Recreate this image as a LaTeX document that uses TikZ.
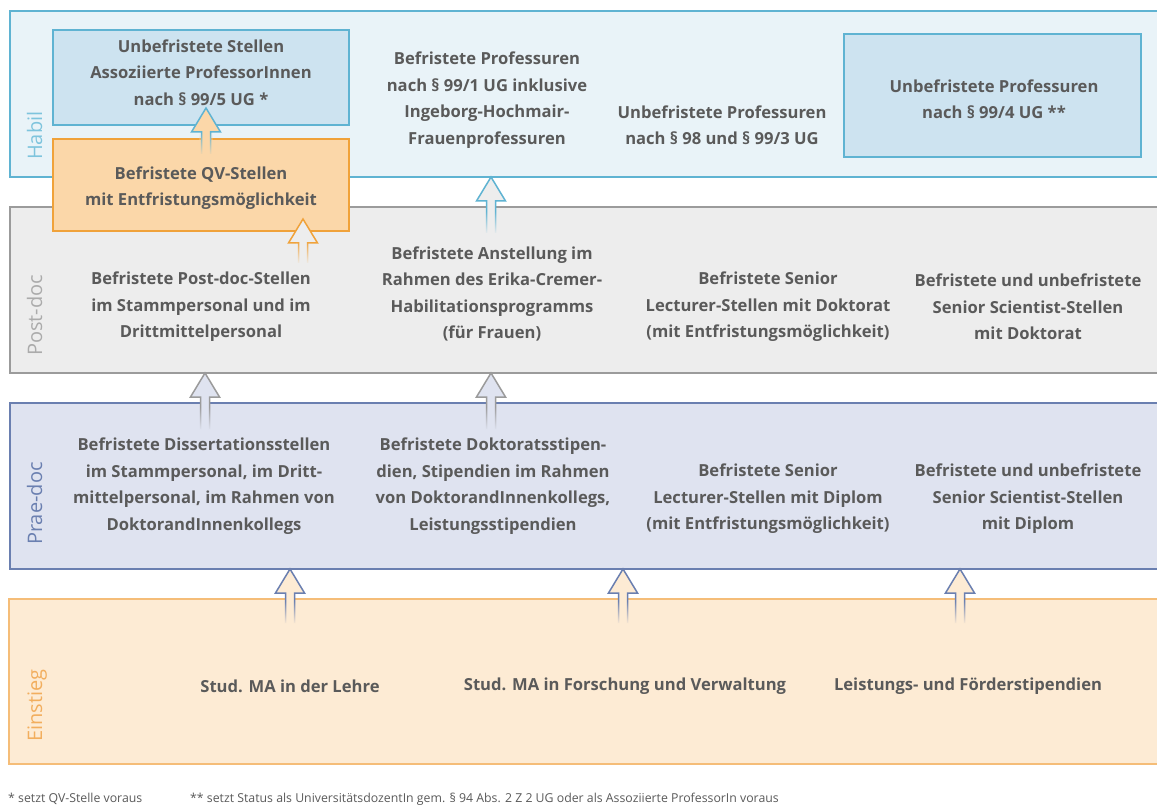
\documentclass[tikz,border=0pt]{standalone}
\usepackage{fontspec}
\setmainfont{Open Sans}
\usetikzlibrary{fadings,calc}
\definecolor{txt}{HTML}{5A5A5A}
\definecolor{habD}{HTML}{5FB3D2}
\definecolor{habF}{HTML}{E9F3F8}
\definecolor{habB}{HTML}{CDE3F0}
\definecolor{habL}{HTML}{7EC4DD}
\definecolor{postD}{HTML}{9B9B9B}
\definecolor{postF}{HTML}{EDEDED}
\definecolor{postL}{HTML}{ABABAB}
\definecolor{praeD}{HTML}{6A7FB0}
\definecolor{praeF}{HTML}{DFE3F0}
\definecolor{einD}{HTML}{F5BD78}
\definecolor{einF}{HTML}{FDEBD4}
\definecolor{einL}{HTML}{F2AE5E}
\definecolor{qvF}{HTML}{FBD7A9}
\definecolor{qvD}{HTML}{F0A23A}
\newcommand\uparr[4]{%
  \fill[#4] (#1) -- ++(-14.5,24) -- ++(10,0) -- ++(0,#2-24) -- ++(9,0) -- ++(0,24-#2) -- ++(10,0) -- cycle;
  \draw[#3, line width=1.5pt] ($(#1)+(-4.5,#2)$) -- ++(0,24-#2) -- ++(-10,0) -- (#1) -- ++(14.5,24) -- ++(-10,0) -- ++(0,#2-24);
  \fill[#4, path fading=north] ($(#1)+(-7,#2-22)$) rectangle ($(#1)+(7,#2+1)$);
}
\tikzset{
  band/.style={line width=1.5pt, inner sep=0pt, outer sep=0pt, anchor=north west, minimum width=1160pt},
  ibox/.style={line width=1.5pt, inner sep=0pt, outer sep=0pt, anchor=north west},
  lbl/.style={font=\bfseries\fontsize{16.6}{26.5}\selectfont, text=txt, align=center, inner sep=0pt},
  bandlbl/.style={font=\fontsize{20}{24}\selectfont, rotate=90, anchor=base west, inner sep=0pt},
  foot/.style={font=\fontsize{12.3}{14}\selectfont, text=txt, anchor=base west, inner sep=0pt}
}
\begin{document}
\begin{tikzpicture}[x=1pt,y=-1pt]
\clip (0,0) rectangle (1157,805);
\fill[white] (0,0) rectangle (1157,805);
% bands
\node[band, draw=habD, fill=habF, minimum height=166pt] (habil) at (10,11) {};
\node[band, draw=postD, fill=postF, minimum height=166pt] (postdoc) at (10,207) {};
\node[band, draw=praeD, fill=praeF, minimum height=166pt] (praedoc) at (10,403) {};
\node[band, draw=einD, fill=einF, minimum height=165pt] (einstieg) at (9,599) {};
% band labels
\node[bandlbl, text=habL] (habilL) at (42,160) {Habil};
\node[bandlbl, text=postL] (postL) at (42,356) {Post-doc};
\node[bandlbl, text=praeD] (praeL) at (42,545) {Prae-doc};
\node[bandlbl, text=einL] (einL) at (42,742) {Einstieg};
% inner boxes
\node[ibox, draw=habD, fill=habB, minimum width=296pt, minimum height=95pt] (assoz) at (53,30) {};
\node[ibox, draw=habD, fill=habB, minimum width=297pt, minimum height=123pt] (prof) at (844,34) {};
\node[ibox, draw=qvD, fill=qvF, minimum width=296pt, minimum height=92pt] (qv) at (53,139) {};
% texts Habil
\node[lbl] (assozT) at (201,72.5) {Unbefristete Stellen\\Assoziierte ProfessorInnen\\nach § 99/5 UG *};
\node[lbl] (befProfT) at (487,100) {Befristete Professuren\\nach § 99/1 UG inklusive\\Ingeborg-Hochmair-\\Frauenprofessuren};
\node[lbl] (unbProfT) at (722,125) {Unbefristete Professuren\\nach § 98 und § 99/3 UG};
\node[lbl] (profT) at (994,99) {Unbefristete Professuren\\nach § 99/4 UG **};
\node[lbl] (qvT) at (201,188) {Befristete QV-Stellen\\mit Entfristungsmöglichkeit};
% texts Post-doc
\node[lbl] (pd1) at (201,307) {Befristete Post-doc-Stellen\\im Stammpersonal und im\\Drittmittelpersonal};
\node[lbl] (pd2) at (492,294) {Befristete Anstellung im\\Rahmen des Erika-Cremer-\\Habilitationsprogramms\\(für Frauen)};
\node[lbl] (pd3) at (768,307) {Befristete Senior\\Lecturer-Stellen mit Doktorat\\(mit Entfristungsmöglichkeit)};
\node[lbl] (pd4) at (1028,307) {Befristete und unbefristete\\Senior Scientist-Stellen\\mit Doktorat};
% texts Prae-doc
\node[lbl] (pr1) at (204,486) {Befristete Dissertationsstellen\\im Stammpersonal, im Dritt-\\mittelpersonal, im Rahmen von\\DoktorandInnenkollegs};
\node[lbl] (pr2) at (493,486) {Befristete Doktoratsstipen-\\dien, Stipendien im Rahmen\\von DoktorandInnenkollegs,\\Leistungsstipendien};
\node[lbl] (pr3) at (768,499) {Befristete Senior\\Lecturer-Stellen mit Diplom\\(mit Entfristungsmöglichkeit)};
\node[lbl] (pr4) at (1028,499) {Befristete und unbefristete\\Senior Scientist-Stellen\\mit Diplom};
% texts Einstieg
\node[lbl] (e1) at (290,686) {Stud. MA in der Lehre};
\node[lbl] (e2) at (625,686) {Stud. MA in Forschung und Verwaltung};
\node[lbl] (e3) at (968,686) {Leistungs- und Förderstipendien};
% arrow columns
\coordinate (xa) at (205,0);
\coordinate (xb) at (491,0);
\coordinate (xc) at (290,0);
\coordinate (xd) at (623,0);
\coordinate (xe) at (960,0);
\coordinate (xf) at (303,0);
\coordinate (xg) at (206,0);
\coordinate (tA) at (xa |- postdoc.south);
\coordinate (tB) at (xb |- postdoc.south);
\coordinate (tC) at (xc |- praedoc.south);
\coordinate (tD) at (xd |- praedoc.south);
\coordinate (tE) at (xe |- praedoc.south);
\coordinate (tF) at (xb |- habil.south);
\coordinate (qvb) at (xf |- qv.south);
\coordinate (tG) at ($(qvb)+(0,-12)$);
\coordinate (asb) at (xg |- assoz.south);
\coordinate (tH) at ($(asb)+(0,-17)$);
\uparr{tA}{56}{postD}{praeF}
\uparr{tB}{56}{postD}{praeF}
\uparr{tC}{54}{praeD}{einF}
\uparr{tD}{54}{praeD}{einF}
\uparr{tE}{54}{praeD}{einF}
\uparr{tF}{56}{habD}{postF}
\uparr{tG}{44}{qvD}{postF}
\uparr{tH}{46}{habD}{qvF}
% footnotes
\node[foot] (fn1) at (8,802) {* setzt QV-Stelle voraus};
\node[foot] (fn2) at (190,802) {** setzt Status als UniversitätsdozentIn gem. § 94 Abs. 2 Z 2 UG oder als Assoziierte ProfessorIn voraus};
\end{tikzpicture}
\end{document}
